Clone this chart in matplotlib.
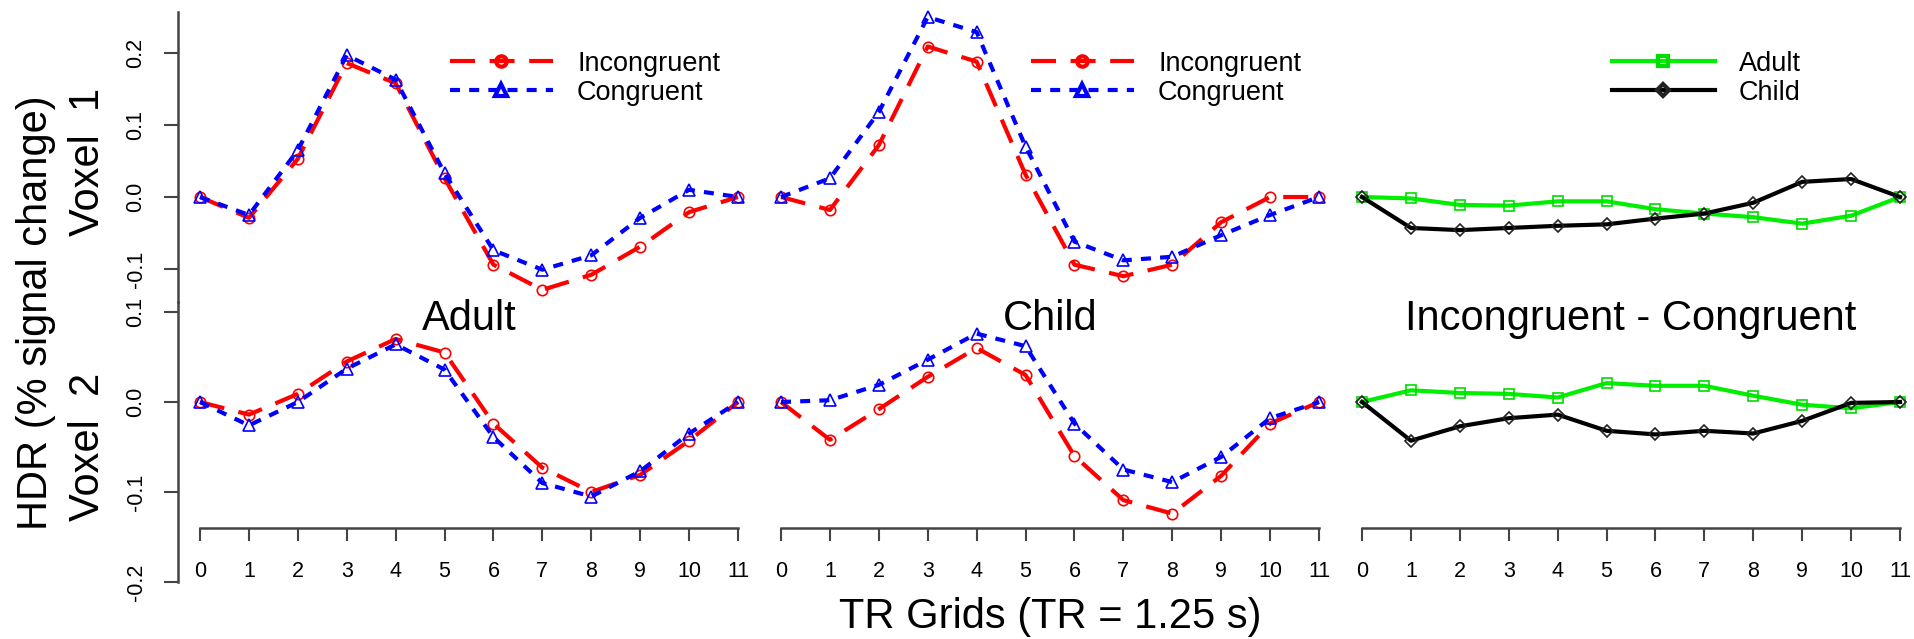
import numpy as np
import matplotlib
matplotlib.use("Agg")
import matplotlib.pyplot as plt

plt.rcParams['font.family'] = ['Liberation Sans', 'DejaVu Sans']

tr = np.arange(12)
tr_labels = [str(i) for i in tr]

# Voxel 1 (top row)
adult_inc_v1 = [0.0, -0.029, 0.053, 0.186, 0.158, 0.026, -0.094, -0.129, -0.108, -0.069, -0.021, 0.0]
adult_con_v1 = [0.0, -0.025, 0.065, 0.197, 0.163, 0.033, -0.074, -0.101, -0.081, -0.029, 0.010, 0.0]
child_inc_v1 = [0.0, -0.018, 0.072, 0.209, 0.188, 0.031, -0.094, -0.110, -0.094, -0.035, 0.000, 0.0]
child_con_v1 = [0.0, 0.026, 0.118, 0.250, 0.229, 0.070, -0.062, -0.088, -0.083, -0.053, -0.025, 0.0]
diff_adult_v1 = [0.0, -0.002, -0.011, -0.012, -0.006, -0.006, -0.017, -0.023, -0.028, -0.037, -0.026, 0.0]
diff_child_v1 = [0.0, -0.043, -0.046, -0.043, -0.040, -0.038, -0.030, -0.023, -0.008, 0.021, 0.025, 0.0]

# Voxel 2 (bottom row)
adult_inc_v2 = [0.0, -0.014, 0.009, 0.045, 0.070, 0.055, -0.024, -0.073, -0.100, -0.081, -0.043, 0.0]
adult_con_v2 = [0.0, -0.026, 0.000, 0.037, 0.064, 0.036, -0.039, -0.090, -0.105, -0.077, -0.035, 0.0]
child_inc_v2 = [0.0, -0.042, -0.008, 0.028, 0.060, 0.030, -0.060, -0.109, -0.124, -0.082, -0.024, 0.0]
child_con_v2 = [0.0, 0.002, 0.019, 0.047, 0.076, 0.062, -0.024, -0.075, -0.089, -0.061, -0.018, 0.0]
diff_adult_v2 = [0.0, 0.013, 0.010, 0.009, 0.005, 0.021, 0.018, 0.018, 0.007, -0.003, -0.007, 0.0]
diff_child_v2 = [0.0, -0.043, -0.027, -0.018, -0.014, -0.032, -0.036, -0.032, -0.035, -0.021, -0.001, 0.0]

titles = ['Adult', 'Child', 'Incongruent - Congruent']

W, H = 1915, 639
fig = plt.figure(figsize=(W / 100, H / 100), dpi=100)


def px_axes(left, top, width, height):
    ax = fig.add_axes([left / W, 1 - (top + height) / H, width / W, height / H])
    ax.patch.set_alpha(0)
    return ax


top_ylim = (-0.16, 0.27)
bot_ylim = (-0.21, 0.115)
axes_top, axes_bot = [], []
for j in range(3):
    left = 178.5 + 581 * j
    at = px_axes(left, 197 - 720 * top_ylim[1], 581, 720 * (top_ylim[1] - top_ylim[0]))
    ab = px_axes(left, 402 - 900 * bot_ylim[1], 581, 900 * (bot_ylim[1] - bot_ylim[0]))
    at.set_ylim(*top_ylim)
    ab.set_ylim(*bot_ylim)
    for ax in (at, ab):
        ax.set_xlim(-0.44, 11.44)
        ax.spines['top'].set_visible(False)
        ax.spines['right'].set_visible(False)
        for s in ('left', 'bottom'):
            ax.spines[s].set_linewidth(1.8)
            ax.spines[s].set_color('#444444')
    at.spines['bottom'].set_visible(False)
    at.set_xticks([])
    ab.spines['bottom'].set_position(('data', -0.14))
    ab.spines['bottom'].set_bounds(0, 11)
    ab.set_xticks(tr)
    ab.set_xticklabels(tr_labels)
    ab.tick_params(axis='x', direction='out', length=9.5, width=1.5, color='#444444',
                   labelsize=15.5, pad=14)
    if j > 0:
        for ax in (at, ab):
            ax.spines['left'].set_visible(False)
            ax.set_yticks([])
    axes_top.append(at)
    axes_bot.append(ab)

# y axis on the left panels
a = axes_top[0]
a.spines['left'].set_bounds(-0.146, 0.257)
a.set_yticks([-0.1, 0.0, 0.1, 0.2])
a.set_yticklabels(['-0.1', '0.0', '0.1', '0.2'])
a = axes_bot[0]
a.spines['left'].set_bounds(-0.2, 0.111)
a.set_yticks([-0.2, -0.1, 0.0, 0.1])
a.set_yticklabels(['-0.2', '-0.1', '0.0', '0.1'])
for a in (axes_top[0], axes_bot[0]):
    a.tick_params(axis='y', direction='out', length=10, width=1.5, color='#444444',
                  labelsize=15.5, pad=13, labelrotation=90)
    for lab in a.get_yticklabels():
        lab.set_va('center')

red_kw = dict(color='#ff0000', lw=3, dashes=(6, 3.5), marker='o', ms=7.5,
              mfc='none', mec='#ff0000', mew=1.2)
blue_kw = dict(color='#0000ff', lw=3, dashes=(2.4, 2.2), marker='^', ms=8.5,
               mfc='none', mec='#0000ff', mew=1.2)
green_kw = dict(color='#00ee00', lw=3, marker='s', ms=7, mfc='none', mec='#00dd00', mew=1.2)
black_kw = dict(color='black', lw=3, marker='D', ms=6.5, mfc='none', mec='#222222', mew=1.2)

pairs = [(adult_inc_v1, adult_con_v1, adult_inc_v2, adult_con_v2),
         (child_inc_v1, child_con_v1, child_inc_v2, child_con_v2)]
for j, (i1, c1, i2, c2) in enumerate(pairs):
    axes_top[j].plot(tr, i1, label='Incongruent', **red_kw)
    axes_top[j].plot(tr, c1, label='Congruent', **blue_kw)
    axes_bot[j].plot(tr, i2, **red_kw)
    axes_bot[j].plot(tr, c2, **blue_kw)

axes_top[2].plot(tr, diff_adult_v1, label='Adult', **green_kw)
axes_top[2].plot(tr, diff_child_v1, label='Child', **black_kw)
axes_bot[2].plot(tr, diff_adult_v2, **green_kw)
axes_bot[2].plot(tr, diff_child_v2, **black_kw)

for at in axes_top:
    leg = at.legend(loc='upper left', bbox_to_anchor=(0.467, 0.845), frameon=False,
                    fontsize=19.5, handlelength=3.8, handletextpad=0.9,
                    labelspacing=0.12, borderpad=0, borderaxespad=0)
    for h in leg.legend_handles:
        h.set_markeredgewidth(3)

for j, t in enumerate(titles):
    cx = 178.5 + 581 * j + 290.5
    fig.text(cx / W, 1 - 330 / H, t, ha='center', va='baseline', fontsize=30)

fig.text(1050 / W, 1 - 628 / H, 'TR Grids (TR = 1.25 s)', ha='center', va='baseline', fontsize=30)
fig.text(36 / W, 1 - 313 / H, 'HDR (% signal change)', rotation=90, ha='center', va='center', fontsize=30)
fig.text(88 / W, 1 - 162 / H, 'Voxel  1', rotation=90, ha='center', va='center', fontsize=30)
fig.text(88 / W, 1 - 447 / H, 'Voxel  2', rotation=90, ha='center', va='center', fontsize=30)

fig.savefig('out.png', dpi=100)
